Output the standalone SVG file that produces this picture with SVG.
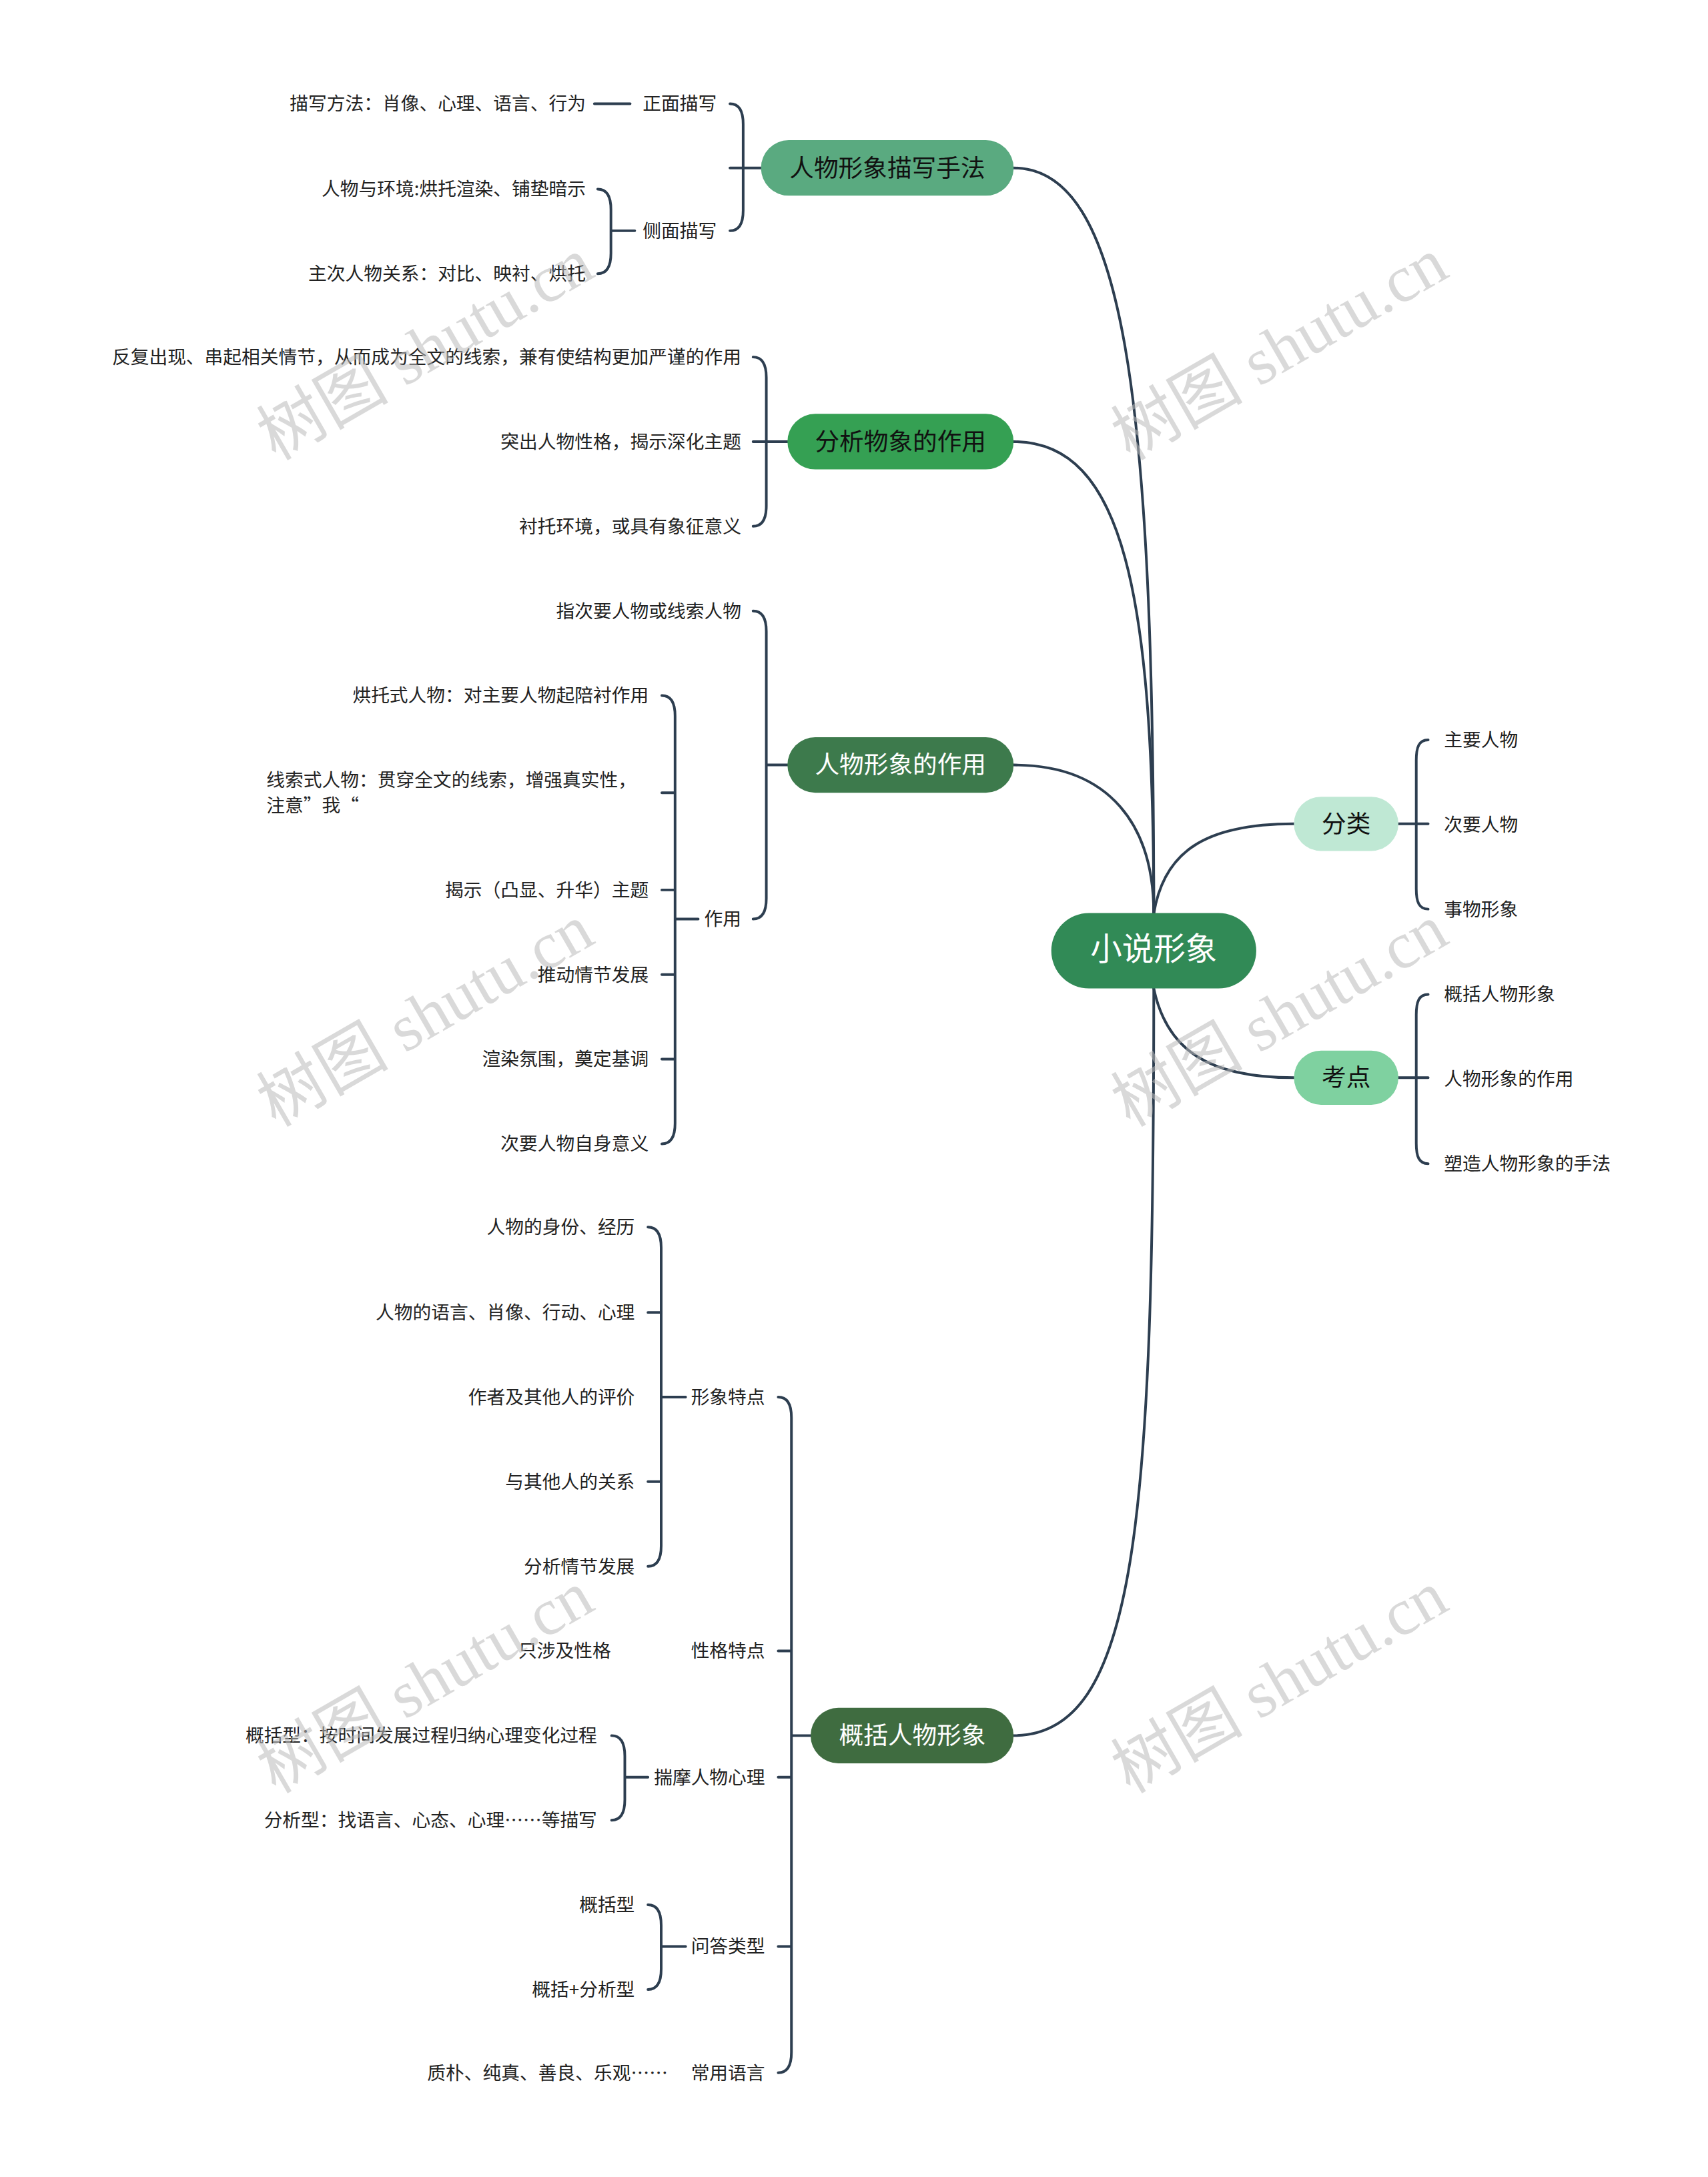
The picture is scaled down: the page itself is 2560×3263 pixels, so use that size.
<svg xmlns="http://www.w3.org/2000/svg" width="2560" height="3263" viewBox="0 0 2560 3263">
<style>
.c{fill:none;stroke:#2d3e50;stroke-width:4;stroke-linecap:round}
.t{font-family:"Noto Sans CJK SC","Noto Sans",sans-serif;font-size:28px;fill:#222}
.r{text-anchor:end}
.n{font-family:"Noto Sans CJK SC","Noto Sans",sans-serif;font-size:37px;text-anchor:middle}
.wm{font-family:"Liberation Serif","Noto Sans CJK SC",serif;font-size:100px;fill:#bbb;opacity:0.55}
</style>
<rect width="2560" height="3263" fill="#fff"/>
<g transform="scale(0.991)">
<g id="connectors">
<path class="c" d="M1533,254 C1700,254 1745,600 1745,1382"/>
<path class="c" d="M1533,668 C1700,668 1745,900 1745,1382"/>
<path class="c" d="M1533,1157 C1680,1157 1745,1250 1745,1382"/>
<path class="c" d="M1745,1495 C1745,2300 1720,2625 1533,2625"/>
<path class="c" d="M1745,1382 C1760,1290 1820,1246 1957,1246"/>
<path class="c" d="M1745,1495 C1765,1590 1830,1630 1957,1630"/>
<path class="c" d="M2115,1246 L2160,1246 M2160,1119 C2146,1119 2142,1130 2142,1150 L2142,1344 C2142,1364 2146,1375 2160,1375"/>
<path class="c" d="M2115,1630 L2160,1630 M2160,1504 C2146,1504 2142,1515 2142,1535 L2142,1729 C2142,1749 2146,1760 2160,1760"/>
<path class="c" d="M1151,254 L1104,254 M1104,157 C1118,157 1124,168 1124,188 L1124,318 C1124,338 1118,349 1104,349"/>
<path class="c" d="M899,157 L953,157"/>
<path class="c" d="M960,349 L924,349 M904,286 C918,286 924,297 924,317 L924,383 C924,403 918,414 904,414"/>
<path class="c" d="M1191,668 L1139,668 M1139,540 C1153,540 1159,551 1159,571 L1159,765 C1159,785 1153,796 1139,796"/>
<path class="c" d="M1191,1157 L1159,1157 M1139,924 C1153,924 1159,935 1159,955 L1159,1359 C1159,1379 1153,1390 1139,1390"/>
<path class="c" d="M1056,1390 L1021,1390 M1001,1052 C1015,1052 1021,1063 1021,1083 L1021,1699 C1021,1719 1015,1730 1001,1730 M1001,1199 L1021,1199 M1001,1346 L1021,1346 M1001,1474 L1021,1474 M1001,1602 L1021,1602"/>
<path class="c" d="M1226,2625 L1197,2625 M1177,2113 C1191,2113 1197,2124 1197,2144 L1197,3104 C1197,3124 1191,3135 1177,3135 M1177,2497 L1197,2497 M1177,2688 L1197,2688 M1177,2944 L1197,2944"/>
<path class="c" d="M1037,2113 L1000,2113 M980,1856 C994,1856 1000,1867 1000,1887 L1000,2338 C1000,2358 994,2369 980,2369 M980,1985 L1000,1985 M980,2241 L1000,2241"/>
<path class="c" d="M980,2688 L945,2688 M925,2625 C939,2625 945,2636 945,2656 L945,2722 C945,2742 939,2753 925,2753"/>
<path class="c" d="M1037,2944 L1000,2944 M980,2881 C994,2881 1000,2892 1000,2912 L1000,2978 C1000,2998 994,3009 980,3009"/>
</g>
<g id="root"><rect x="1590" y="1381" width="310" height="114" rx="57" fill="#318a56"/><text class="n" x="1745" y="1452" style="font-size:48px;fill:#fff">小说形象</text></g>
<g id="n1"><rect x="1151" y="212" width="382" height="84" rx="42" fill="#5aaa80"/><text class="n" x="1342" y="267" fill="#111">人物形象描写手法</text></g>
<g id="n2"><rect x="1191" y="626" width="342" height="84" rx="42" fill="#35a053"/><text class="n" x="1362" y="681" fill="#111">分析物象的作用</text></g>
<g id="n3"><rect x="1191" y="1115" width="342" height="84" rx="42" fill="#3d7a4c"/><text class="n" x="1362" y="1170" fill="#fff">人物形象的作用</text></g>
<g id="n4"><rect x="1226" y="2583" width="307" height="84" rx="42" fill="#3f6c40"/><text class="n" x="1380" y="2638" fill="#fff">概括人物形象</text></g>
<g id="n5"><rect x="1957" y="1205" width="158" height="82" rx="41" fill="#bfe8d4"/><text class="n" x="2036" y="1259" fill="#111">分类</text></g>
<g id="n6"><rect x="1957" y="1589" width="158" height="82" rx="41" fill="#7fd1a0"/><text class="n" x="2036" y="1643" fill="#111">考点</text></g>
<g id="leaves">
<text class="t" x="2184" y="1129">主要人物</text>
<text class="t" x="2184" y="1257">次要人物</text>
<text class="t" x="2184" y="1385">事物形象</text>
<text class="t" x="2184" y="1514">概括人物形象</text>
<text class="t" x="2184" y="1642">人物形象的作用</text>
<text class="t" x="2184" y="1770">塑造人物形象的手法</text>
<text class="t r" x="1084" y="167">正面描写</text>
<text class="t r" x="886" y="167">描写方法：肖像、心理、语言、行为</text>
<text class="t r" x="1084" y="359">侧面描写</text>
<text class="t r" x="886" y="296">人物与环境:烘托渲染、铺垫暗示</text>
<text class="t r" x="886" y="424">主次人物关系：对比、映衬、烘托</text>
<text class="t r" x="1121" y="550">反复出现、串起相关情节，从而成为全文的线索，兼有使结构更加严谨的作用</text>
<text class="t r" x="1121" y="678">突出人物性格，揭示深化主题</text>
<text class="t r" x="1121" y="806">衬托环境，或具有象征意义</text>
<text class="t r" x="1121" y="934">指次要人物或线索人物</text>
<text class="t r" x="1121" y="1400">作用</text>
<text class="t r" x="981" y="1062">烘托式人物：对主要人物起陪衬作用</text>
<text class="t" x="403" y="1190">线索式人物：贯穿全文的线索，增强真实性，</text>
<text class="t" x="403" y="1228">注意”我“</text>
<text class="t r" x="981" y="1356">揭示（凸显、升华）主题</text>
<text class="t r" x="981" y="1484">推动情节发展</text>
<text class="t r" x="981" y="1612">渲染氛围，奠定基调</text>
<text class="t r" x="981" y="1740">次要人物自身意义</text>
<text class="t r" x="1157" y="2123">形象特点</text>
<text class="t r" x="960" y="1866">人物的身份、经历</text>
<text class="t r" x="960" y="1995">人物的语言、肖像、行动、心理</text>
<text class="t r" x="960" y="2123">作者及其他人的评价</text>
<text class="t r" x="960" y="2251">与其他人的关系</text>
<text class="t r" x="960" y="2379">分析情节发展</text>
<text class="t r" x="1157" y="2507">性格特点</text>
<text class="t r" x="924" y="2507">只涉及性格</text>
<text class="t r" x="1157" y="2698">揣摩人物心理</text>
<text class="t r" x="903" y="2635">概括型：按时间发展过程归纳心理变化过程</text>
<text class="t r" x="903" y="2763">分析型：找语言、心态、心理……等描写</text>
<text class="t r" x="1157" y="2954">问答类型</text>
<text class="t r" x="960" y="2891">概括型</text>
<text class="t r" x="960" y="3019">概括+分析型</text>
<text class="t r" x="1157" y="3145">常用语言</text>
<text class="t r" x="1010" y="3145">质朴、纯真、善良、乐观……</text>
</g>
<g id="watermarks">
<text class="wm" x="650" y="560" text-anchor="middle" transform="rotate(-30 650 540)">树图 shutu.cn</text>
<text class="wm" x="1942" y="560" text-anchor="middle" transform="rotate(-30 1942 540)">树图 shutu.cn</text>
<text class="wm" x="650" y="1568" text-anchor="middle" transform="rotate(-30 650 1548)">树图 shutu.cn</text>
<text class="wm" x="1942" y="1568" text-anchor="middle" transform="rotate(-30 1942 1548)">树图 shutu.cn</text>
<text class="wm" x="650" y="2576" text-anchor="middle" transform="rotate(-30 650 2556)">树图 shutu.cn</text>
<text class="wm" x="1942" y="2576" text-anchor="middle" transform="rotate(-30 1942 2556)">树图 shutu.cn</text>
</g>
</g>
</svg>
